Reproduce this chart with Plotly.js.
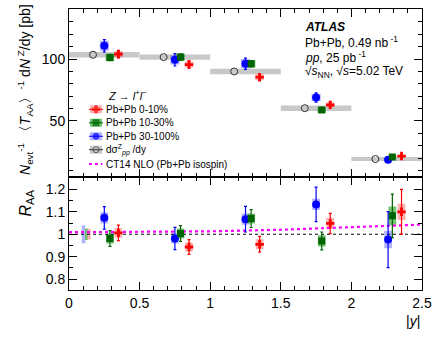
<!DOCTYPE html>
<html>
<head>
<meta charset="utf-8">
<script src="https://cdn.plot.ly/plotly-3.0.1.min.js"></script>
<style>body{margin:0;background:white}#plot{width:436px;height:342px}</style>
</head>
<body>
<div id="plot"></div>
<script>
// rapidity bins
var binCenter = [0.25, 0.75, 1.25, 1.75, 2.25];
var xPP = [0.17, 0.67, 1.17, 1.67, 2.17];
var xBlue = [0.25, 0.75, 1.25, 1.75, 2.26];
var xGreen = [0.29, 0.79, 1.29, 1.79, 2.29];
var xRed = [0.35, 0.85, 1.35, 1.85, 2.355];

// top panel: normalised yields [pb]
var ppYield = [103.5, 101.6, 90.0, 60.3, 19.2];
var ppBand = [2.2, 2.2, 2.2, 2.2, 1.6];
var blueYield = [110.8, 99.4, 96.2, 68.9, 18.6];
var blueStat = [5.0, 5.0, 4.5, 3.8, 1.2];
var blueSys = [4.0, 3.8, 3.8, 3.0, 1.0];
var greenYield = [101.3, 101.6, 96.2, 58.9, 20.8];
var greenStat = [2.5, 2.5, 2.5, 2.0, 0.8];
var greenSys = [3.0, 3.0, 3.0, 2.2, 1.0];
var redYield = [104.0, 95.6, 85.4, 63.0, 21.6];
var redStat = [3.0, 3.0, 2.8, 2.5, 1.0];
var redSys = [2.6, 2.5, 2.3, 1.8, 0.8];

// bottom panel: R_AA
var blueRaa = [1.073, 0.981, 1.067, 1.133, 0.976];
var blueRaaStat = [0.050, 0.050, 0.057, 0.077, 0.125];
var blueRaaSys = [0.025, 0.022, 0.025, 0.025, 0.039];
var greenRaa = [0.981, 1.003, 1.070, 0.970, 1.082];
var greenRaaStat = [0.035, 0.035, 0.040, 0.040, 0.097];
var greenRaaSys = [0.022, 0.022, 0.022, 0.025, 0.042];
var redRaa = [1.006, 0.943, 0.955, 1.048, 1.100];
var redRaaStat = [0.035, 0.033, 0.035, 0.045, 0.100];
var redRaaSys = [0.022, 0.020, 0.022, 0.025, 0.036];

// global normalisation boxes near y=0.1
var normX = [0.103, 0.123, 0.142];
var normHalf = [0.040, 0.026, 0.024];
var normWidth = [0.026, 0.019, 0.024];

// CT14 NLO prediction
var ct14X = [0, 0.5, 1.0, 1.5, 2.0, 2.5];
var ct14Y = [1.009, 1.010, 1.013, 1.020, 1.030, 1.043];

var RED = '#ff0000', GREEN = '#006400', BLUE = '#0000ff';
var RED_BOX = 'rgba(255,0,0,0.3)', GREEN_BOX = 'rgba(0,150,0,0.55)', BLUE_BOX = 'rgba(0,0,255,0.3)';

function box(x, v, h, w, color, xa, ya) {
  return {type: 'bar', x: x, y: h.map(e => 2 * e), base: v.map((y, i) => y - h[i]),
    width: w, marker: {color: color, line: {width: 0}}, xaxis: xa, yaxis: ya,
    showlegend: false, hoverinfo: 'skip'};
}
function pts(x, v, err, color, sym, size, xa, ya) {
  return {type: 'scatter', mode: 'markers', x: x, y: v,
    error_y: {type: 'data', array: err, color: color, thickness: 1.2, width: 1.5},
    marker: {color: color, symbol: sym, size: size}, xaxis: xa, yaxis: ya, showlegend: false};
}

var traces = [
  box(binCenter, ppYield, ppBand, 0.5, '#c8c8c8', 'x', 'y'),
  box(xBlue, blueYield, blueSys, 0.064, BLUE_BOX, 'x', 'y'),
  box(xGreen, greenYield, greenSys, 0.06, GREEN_BOX, 'x', 'y'),
  box(xRed, redYield, redSys, 0.06, RED_BOX, 'x', 'y'),
  box(xBlue, blueRaa, blueRaaSys, 0.055, BLUE_BOX, 'x2', 'y2'),
  box(xGreen, greenRaa, greenRaaSys, 0.055, GREEN_BOX, 'x2', 'y2'),
  box(xRed, redRaa, redRaaSys, 0.055, RED_BOX, 'x2', 'y2'),
  box(normX.slice(0, 1), [1], normHalf.slice(0, 1), normWidth[0], BLUE_BOX, 'x2', 'y2'),
  box(normX.slice(1, 2), [1], normHalf.slice(1, 2), normWidth[1], GREEN_BOX, 'x2', 'y2'),
  box(normX.slice(2, 3), [1], normHalf.slice(2, 3), normWidth[2], RED_BOX, 'x2', 'y2'),
  {type: 'scatter', mode: 'lines', x: [0, 2.5], y: [1, 1], xaxis: 'x2', yaxis: 'y2',
    line: {color: 'black', width: 1, dash: 'dot'}, showlegend: false, hoverinfo: 'skip'},
  {type: 'scatter', mode: 'lines', x: ct14X, y: ct14Y, xaxis: 'x2', yaxis: 'y2',
    line: {color: '#ff00ff', width: 2.2, dash: 'dot'}, showlegend: false},
  {type: 'scatter', mode: 'markers', x: xPP, y: ppYield, xaxis: 'x', yaxis: 'y', showlegend: false,
    marker: {symbol: 'circle-open', size: 7, color: '#333', line: {width: 1, color: '#333'}}},
  pts(xBlue, blueYield, blueStat, BLUE, 'circle', 8, 'x', 'y'),
  pts(xGreen, greenYield, greenStat, GREEN, 'square', 7, 'x', 'y'),
  pts(xRed, redYield, redStat, RED, 'cross', 7, 'x', 'y'),
  pts(xBlue, blueRaa, blueRaaStat, BLUE, 'circle', 8, 'x2', 'y2'),
  pts(xGreen, greenRaa, greenRaaStat, GREEN, 'square', 7, 'x2', 'y2'),
  pts(xRed, redRaa, redRaaStat, RED, 'cross', 7, 'x2', 'y2')
];

// hand-made legend keys on a hidden 0..1 axis over the top panel
var legRows = [0.404, 0.324, 0.244, 0.164, 0.079];
var legLabels = ['Pb+Pb 0-10%', 'Pb+Pb 10-30%', 'Pb+Pb 30-100%',
  'd\u03c3<sup>Z</sup><sub><i>pp</i></sub> /dy', 'CT14 NLO (Pb+Pb isospin)'];
var legKeyX = 0.0765;
var legColors = [RED, GREEN, BLUE, '#333'];
var legBoxes = [RED_BOX, GREEN_BOX, BLUE_BOX, '#c8c8c8'];
var legSyms = ['cross', 'square', 'circle', 'circle-open'];

var shapes = [];
for (var i = 0; i < 4; i++) {
  shapes.push({type: 'rect', xref: 'x3', yref: 'y3', x0: legKeyX - 0.017, x1: legKeyX + 0.017,
    y0: legRows[i] - 0.024, y1: legRows[i] + 0.024, fillcolor: legBoxes[i], line: {width: 0}, layer: 'below'});
  shapes.push({type: 'line', xref: 'x3', yref: 'y3', x0: legKeyX - 0.02, x1: legKeyX + 0.02,
    y0: legRows[i], y1: legRows[i], line: {color: legColors[i], width: 1}});
}
shapes.push({type: 'line', xref: 'x3', yref: 'y3', x0: legKeyX - 0.02, x1: legKeyX + 0.018,
  y0: legRows[4], y1: legRows[4], line: {color: '#ff00ff', width: 2.2, dash: 'dot'}});

traces.push({type: 'scatter', mode: 'markers', x: legRows.slice(0, 4).map(() => legKeyX), y: legRows.slice(0, 4),
  xaxis: 'x3', yaxis: 'y3', showlegend: false, hoverinfo: 'skip',
  marker: {symbol: legSyms, size: [6, 6, 6, 6], color: legColors, line: {width: 1, color: legColors}}});

var annotations = legLabels.map((t, i) => ({xref: 'x3', yref: 'y3', x: 0.099, y: legRows[i], text: t,
  xanchor: 'left', yanchor: 'middle', showarrow: false, font: {size: 10}}));
annotations.push({xref: 'x3', yref: 'y3', x: 0.105, y: 0.489, xanchor: 'left', yanchor: 'middle', showarrow: false,
  text: '<i>Z</i> \u2192 <i>l</i><sup>+</sup><i>l</i><sup>\u2212</sup>', font: {size: 11}});

var txt = [
  ['<b><i>ATLAS</i></b>', 0.937],
  ['Pb+Pb, 0.49 nb<sup> -1</sup>', 0.882],
  ['<i>pp</i>, 25 pb<sup> -1</sup>', 0.83],
  ['\u221a<i>s</i><sub>NN</sub>, \u221a<i>s</i>=5.02 TeV', 0.776]
];
txt.forEach(t => annotations.push({xref: 'paper', yref: 'paper', x: 0.662, y: t[1], text: t[0],
  xanchor: 'left', yanchor: 'middle', showarrow: false, font: {size: 12}}));

annotations.push({xref: 'paper', yref: 'paper', x: -0.125, y: 0.715, textangle: -90, showarrow: false,
  xanchor: 'center', yanchor: 'middle', font: {size: 14},
  text: '<i>N</i><sub>evt</sub><sup>-1</sup> \u3008<i>T</i><sub>AA</sub>\u3009<sup>-1</sup> d<i>N</i><sup> Z</sup>/dy [pb]'});
annotations.push({xref: 'paper', yref: 'paper', x: -0.12, y: 0.31, textangle: -90, showarrow: false,
  xanchor: 'center', yanchor: 'middle', font: {size: 16}, text: '<i>R</i><sub>AA</sub>'});
annotations.push({xref: 'paper', yref: 'paper', x: 1, y: -0.112, showarrow: false,
  xanchor: 'right', yanchor: 'middle', font: {size: 14}, text: '|<i>y</i>|'});

var axBase = {showline: true, linecolor: 'black', linewidth: 1, mirror: 'allticks', ticks: 'inside',
  ticklen: 8, tickcolor: 'black', showgrid: false, zeroline: false};

var layout = {
  width: 436, height: 342,
  margin: {l: 69, r: 14, t: 9, b: 52},
  paper_bgcolor: 'white', plot_bgcolor: 'white',
  font: {family: 'Liberation Sans, Arial, sans-serif', size: 14, color: 'black'},
  barmode: 'overlay', showlegend: false,
  xaxis: Object.assign({}, axBase, {domain: [0, 1], anchor: 'y', range: [0, 2.5], dtick: 0.5, tick0: 0,
    showticklabels: false, minor: {dtick: 0.1, ticks: 'inside', ticklen: 4, tickcolor: 'black'}}),
  yaxis: Object.assign({}, axBase, {domain: [0.401, 1], anchor: 'x', range: [4.4, 140.5], dtick: 50, tick0: 0,
    minor: {dtick: 10, ticks: 'inside', ticklen: 4, tickcolor: 'black'}}),
  xaxis2: Object.assign({}, axBase, {domain: [0, 1], anchor: 'y2', range: [0, 2.5], dtick: 0.5, tick0: 0,
    minor: {dtick: 0.1, ticks: 'inside', ticklen: 4, tickcolor: 'black'}}),
  yaxis2: Object.assign({}, axBase, {domain: [0, 0.401], anchor: 'x2', range: [0.751, 1.254], dtick: 0.1, tick0: 0,
    minor: {dtick: 0.05, ticks: 'inside', ticklen: 4, tickcolor: 'black'}}),
  xaxis3: {domain: [0, 1], anchor: 'y3', range: [0, 1], visible: false, overlaying: 'x'},
  yaxis3: {domain: [0.401, 1], anchor: 'x3', range: [0, 1], visible: false, overlaying: 'y'},
  shapes: shapes,
  annotations: annotations
};

Plotly.newPlot('plot', traces, layout, {staticPlot: true});
</script>
</body>
</html>
